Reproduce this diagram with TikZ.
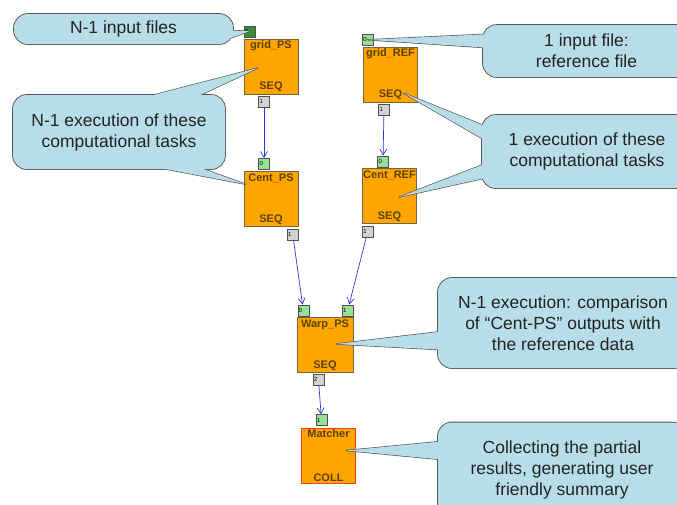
\documentclass[tikz,border=0pt]{standalone}
\usepackage{fontspec}
\setmainfont{Liberation Sans}
\usetikzlibrary{arrows.meta,calc}

\definecolor{taskfill}{RGB}{255,165,0}
\definecolor{taskline}{RGB}{120,100,60}
\definecolor{tasktext}{RGB}{90,65,0}
\definecolor{collline}{RGB}{235,70,20}
\definecolor{inport}{RGB}{150,225,150}
\definecolor{inportdark}{RGB}{60,140,60}
\definecolor{outport}{RGB}{210,210,210}
\definecolor{portline}{RGB}{80,80,80}
\definecolor{flowblue}{RGB}{50,50,210}
\definecolor{callbg}{RGB}{183,221,232}
\definecolor{calledge}{RGB}{85,85,85}
\definecolor{calltext}{RGB}{35,35,35}

\pgfdeclarelayer{cbord}
\pgfdeclarelayer{cfill}
\pgfsetlayers{main,cbord,cfill}

\tikzset{
  task/.style={draw=taskline,fill=taskfill,minimum width=54pt,minimum height=55pt,inner sep=0pt},
  tasklbl/.style={font=\bfseries\fontsize{11}{12}\selectfont,text=tasktext,inner sep=2pt},
  port/.style={draw=portline,minimum size=11pt,inner sep=0.6pt,text width=9pt,align=left,
    font=\fontsize{6}{6}\selectfont},
  inport/.style={port,fill=inport},
  outport/.style={port,fill=outport},
  flow/.style={draw=flowblue,line width=0.7pt,-{Straight Barb[length=6pt,width=7pt]}},
  callout/.style={fill=callbg,rounded corners=14pt,align=center,inner sep=0pt,
    font=\fontsize{17.5}{21}\selectfont,text=calltext},
  calloutline/.style={draw=calledge,line width=1.3pt,rounded corners=14pt,line join=round},
}

\begin{document}
\begin{tikzpicture}[x=1pt,y=-1pt]
\useasboundingbox (0,0) rectangle (677,504);
% tasks
\node[task,label={[tasklbl,anchor=north]north:grid\_PS},label={[tasklbl,anchor=south]south:SEQ}] (gridPS) at (271,66.5) {};
\node[task,label={[tasklbl,anchor=north]north:grid\_REF},label={[tasklbl,anchor=south]south:SEQ}] (gridREF) at (390.5,74.5) {};
\node[task,label={[tasklbl,anchor=north]north:Cent\_PS},label={[tasklbl,anchor=south]south:SEQ}] (CentPS) at (271,199) {};
\node[task,label={[tasklbl,anchor=north]north:Cent\_REF},label={[tasklbl,anchor=south]south:SEQ}] (CentREF) at (389.5,196) {};
\node[task,minimum width=56pt,label={[tasklbl,anchor=north]north:Warp\_PS},label={[tasklbl,anchor=south]south:SEQ}] (Warp) at (325,345) {};
\node[task,draw=collline,line width=0.9pt,label={[tasklbl,anchor=north]north:Matcher},label={[tasklbl,anchor=south]south:COLL}] (Matcher) at (328.5,455.5) {};

% ports
\node[inport,fill=inportdark] (gridPSin) at ($(gridPS.north west)+(5.5,-7.5)$) {0};
\node[outport] (gridPSout) at ($(gridPS.south)+(-7,7)$) {1};
\node[inport] (gridREFin) at ($(gridREF.north west)+(4.5,-7)$) {0};
\node[outport] (gridREFout) at ($(gridREF.south)+(-6.5,7)$) {1};
\node[inport] (CentPSin) at ($(CentPS.north)+(-7,-7.5)$) {0};
\node[outport] (CentPSout) at ($(CentPS.south east)+(-5.5,7.5)$) {1};
\node[inport] (CentREFin) at ($(CentREF.north)+(-6.5,-7)$) {0};
\node[outport] (CentREFout) at ($(CentREF.south west)+(5.5,7.5)$) {1};
\node[inport] (Warpin0) at ($(Warp.north west)+(6.5,-7)$) {0};
\node[inport] (Warpin1) at ($(Warp.north east)+(-5.5,-7)$) {1};
\node[outport] (Warpout) at ($(Warp.south)+(-6.5,7)$) {2};
\node[inport] (Matcherin) at ($(Matcher.north)+(-7,-7.5)$) {1};

% data flow
\draw[flow] (gridPSout) -- (CentPSin);
\draw[flow] (gridREFout) -- (CentREFin);
\draw[flow] (CentPSout) -- (Warpin0);
\draw[flow] (CentREFout) -- (Warpin1);
\draw[flow] (Warpout) -- (Matcherin);

% callouts
\begin{pgfonlayer}{cfill}
\node[callout,minimum width=219pt,minimum height=30pt] (inputsPS) at (123.5,29) {N-1 input files};
\node[callout,minimum width=207pt,minimum height=52pt] (inputREF) at (586.5,51) {1 input file:\\reference file};
\node[callout,minimum width=212pt,minimum height=74pt] (execPS) at (119,132) {N-1 execution of these\\computational tasks};
\node[callout,minimum width=210pt,minimum height=73pt] (execREF) at (587,151.5) {1 execution of these\\computational tasks};
\node[callout,minimum width=250pt,minimum height=90pt] (execWarp) at (563,323) {N-1 execution: comparison\\of “Cent-PS” outputs with\\the reference data};
\node[callout,minimum width=248pt,minimum height=95pt] (collect) at (562,470) {Collecting the partial\\results, generating user\\friendly summary};
\end{pgfonlayer}
\begin{pgfonlayer}{cbord}
\foreach \c in {inputsPS,inputREF,execPS,execREF,execWarp,collect}
  \draw[calloutline] (\c.south west) rectangle (\c.north east);
\end{pgfonlayer}

\path
($(inputsPS.east)+(-11,1)$) coordinate (t1a)
($(inputsPS.east)+(-11,12)$) coordinate (t1b)
(gridPSin.center) coordinate (p1)
($(inputREF.west)+(8,-17)$) coordinate (t2a)
($(inputREF.west)+(8,-3)$) coordinate (t2b)
(gridREFin.center) coordinate (p2)
($(execPS.north)+(16,5)$) coordinate (t3a)
($(execPS.north)+(71,5)$) coordinate (t3b)
($(gridPS.center)+(-13,1.5)$) coordinate (p3)
($(execPS.south)+(21,-5)$) coordinate (t4a)
($(execPS.south)+(71,-5)$) coordinate (t4b)
($(CentPS.north west)+(2,13)$) coordinate (p4)
($(execREF.west)+(8,-23.5)$) coordinate (t5a)
($(execREF.west)+(8,-8.5)$) coordinate (t5b)
($(gridREF.south east)+(-14,-9)$) coordinate (p5)
($(execREF.west)+(8,10.5)$) coordinate (t6a)
($(execREF.west)+(8,25.5)$) coordinate (t6b)
($(CentREF.center)+(10,1)$) coordinate (p6)
($(execWarp.west)+(8,8)$) coordinate (t7a)
($(execWarp.west)+(8,27)$) coordinate (t7b)
($(Warp.center)+(11,-1)$) coordinate (p7)
($(collect.west)+(8,-29)$) coordinate (t8a)
($(collect.west)+(8,-10)$) coordinate (t8b)
($(Matcher.center)+(18,-5)$) coordinate (p8);
\foreach \a/\b/\p in {t1a/t1b/p1,t2a/t2b/p2,t3a/t3b/p3,t4a/t4b/p4,t5a/t5b/p5,t6a/t6b/p6,t7a/t7b/p7,t8a/t8b/p8}{
  \begin{pgfonlayer}{cbord}\draw[calloutline,rounded corners=0pt] (\a) -- (\p) -- (\b);\end{pgfonlayer}
  \begin{pgfonlayer}{cfill}\fill[callbg] (\a) -- (\p) -- (\b) -- cycle;\end{pgfonlayer}
}
\end{tikzpicture}
\end{document}
